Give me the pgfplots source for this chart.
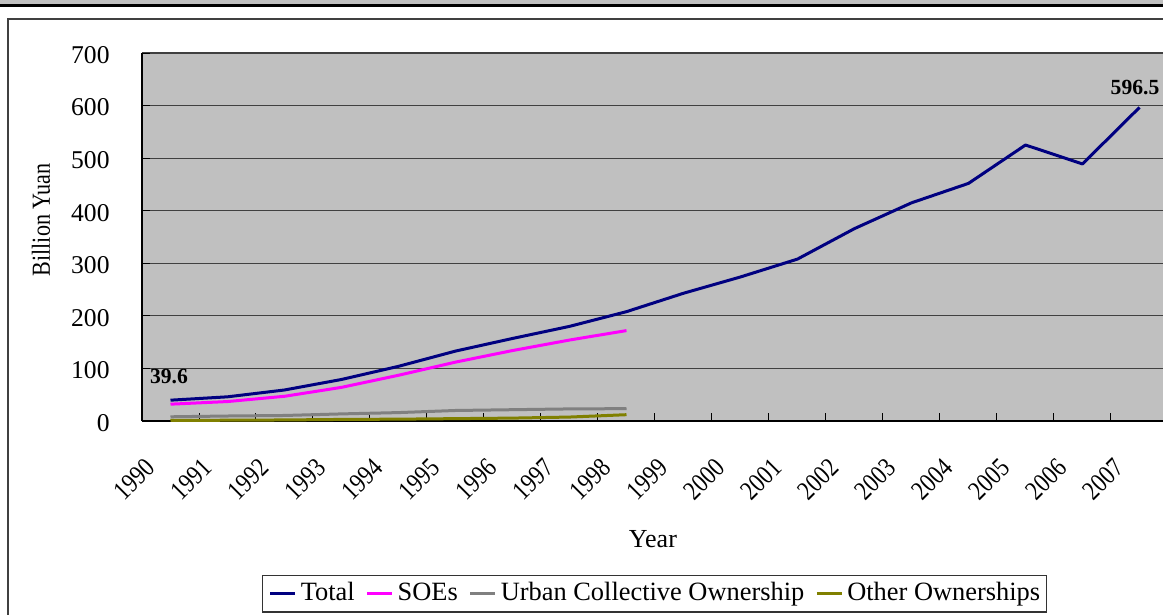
\documentclass[border=0pt]{standalone}
\usepackage{fontspec}
\setmainfont{Liberation Serif}
\newfontfamily\condA[FakeStretch=0.83]{Liberation Serif}
\newfontfamily\condB[FakeStretch=0.85]{Liberation Serif}
\usepackage{pgfplots}
\pgfplotsset{compat=1.18}

\definecolor{plotgray}{RGB}{192,192,192}
\definecolor{gridgray}{RGB}{64,64,64}
\definecolor{framegray}{RGB}{64,64,64}
\definecolor{totalc}{RGB}{0,0,128}
\definecolor{soec}{RGB}{255,0,255}
\definecolor{urbanc}{RGB}{128,128,128}
\definecolor{otherc}{RGB}{128,128,0}

\begin{document}
\begin{tikzpicture}
\useasboundingbox (0,0) rectangle (581.5pt,-307.5pt);
\clip (0,0) rectangle (581.5pt,-307.5pt);
% window strip at the top
\fill[plotgray] (0,0) rectangle (581.5pt,-2pt);
\fill[black] (0,-2pt) rectangle (581.5pt,-3.6pt);
% chart area frame
\draw[framegray, line width=0.6pt] (4pt,-320pt) -- (4pt,-9.5pt) -- (600pt,-9.5pt);

\begin{axis}[
at={(71pt,-210.5pt)}, anchor=south west,
scale only axis, width=513pt, height=184pt,
xmin=1989.5, xmax=2007.5,
ymin=0, ymax=700,
axis x line*=bottom, axis y line*=left,
axis line style={black, line width=0.6pt},
axis background/.style={fill=plotgray},
ymajorgrids, grid style={gridgray, line width=0.55pt},
tick align=inside, tick pos=left,
major tick length=4pt,
tick style={black, line width=0.5pt},
ytick={0,100,...,700},
xtick={1990.5,1991.5,...,2007.5},
xticklabels={1990,1991,1992,1993,1994,1995,1996,1997,1998,1999,2000,2001,2002,2003,2004,2005,2006,2007},
xticklabel style={xshift=-24.15pt, yshift=-21.15pt, rotate=45, anchor=east, inner sep=0pt,
  font=\condA\fontsize{13.5}{15}\selectfont},
yticklabel style={anchor=east, inner sep=0pt, xshift=-16pt, yshift=-1pt,
  font=\fontsize{12.8}{14}\selectfont},
/pgf/number format/assume math mode=true,
xlabel={Year},
xlabel style={at={(axis description cs:0.498,-0.3201)}, anchor=center, font=\fontsize{13}{15}\selectfont},
ylabel={\condB Billion Yuan},
ylabel style={at={(axis description cs:-0.0984,0.5462)}, anchor=center, font=\fontsize{13}{15}\selectfont},
legend columns=4,
legend style={at={(axis description cs:0.4995,-0.4185)}, anchor=north,
  draw=black!80, line width=0.6pt, fill=white,
  font=\fontsize{13.2}{15}\selectfont,
  inner xsep=3pt, inner ysep=2pt,
  nodes={inner xsep=0pt, inner ysep=1pt, text height=9.3pt, text depth=2.9pt},
  /tikz/every even column/.append style={column sep=5.5pt},
  /tikz/every odd column/.append style={column sep=2pt}},
legend image code/.code={\draw[#1, line width=1.5pt] (0pt,0pt) -- (12.5pt,0pt);},
every axis plot/.append style={line width=1.5pt, line join=round},
]

\addplot[totalc] table {
1990 39.6
1991 46
1992 59
1993 79
1994 104
1995 133
1996 157
1997 180
1998 208
1999 243
2000 274
2001 308
2002 366
2003 415
2004 452
2005 525
2006 489
2007 596.5
};
\addlegendentry{Total}

\addplot[soec] table {
1990 32
1991 37
1992 47
1993 64
1994 87
1995 112
1996 134
1997 154
1998 172
};
\addlegendentry{SOEs}

\addplot[urbanc] table {
1990 8
1991 9.5
1992 10.5
1993 13.5
1994 16
1995 20
1996 21.5
1997 23
1998 23.5
};
\addlegendentry{Urban Collective Ownership}

\addplot[otherc] table {
1990 1
1991 1.5
1992 2
1993 3
1994 3.5
1995 4.5
1996 5.5
1997 7.5
1998 12
};
\addlegendentry{Other Ownerships}

\node[font=\bfseries\fontsize{10.8}{12}\selectfont, xshift=-0.75pt, yshift=11.6pt] at (axis cs:1990,39.6) {39.6};
\node[font=\bfseries\fontsize{10.8}{12}\selectfont, xshift=-2.25pt, yshift=10pt] at (axis cs:2007,596.5) {596.5};
\end{axis}
\end{tikzpicture}
\end{document}
